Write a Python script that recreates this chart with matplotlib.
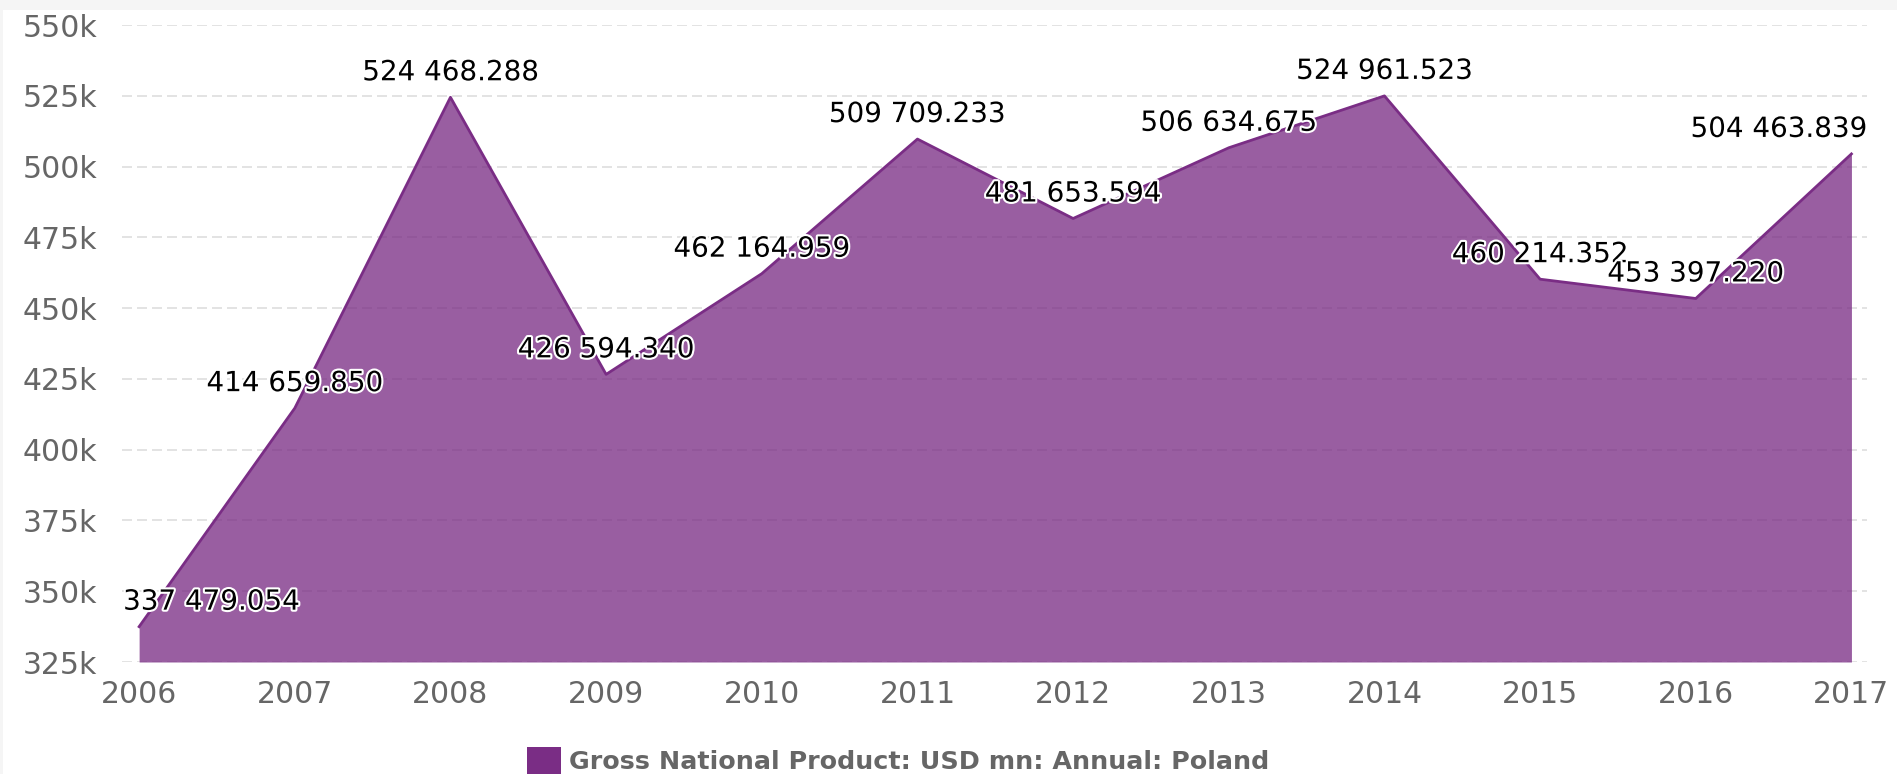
import matplotlib.pyplot as plt
import matplotlib.patheffects as pe
from matplotlib.patches import Rectangle, Patch
from matplotlib.ticker import FuncFormatter

years = [2006, 2007, 2008, 2009, 2010, 2011, 2012, 2013, 2014, 2015, 2016, 2017]
gnp = [337479.054, 414659.850, 524468.288, 426594.340, 462164.959, 509709.233,
       481653.594, 506634.675, 524961.523, 460214.352, 453397.220, 504463.839]
series_name = 'Gross National Product: USD mn: Annual: Poland'

line_col = '#7a2d85'
grey = '#666666'

fig = plt.figure(figsize=(18.97, 7.74), dpi=100, facecolor='#f5f5f5')
# white page area (thin grey strip on top / left like the screenshot)
fig.patches.append(Rectangle((3 / 1897, 0), 1, 1 - 10 / 774, transform=fig.transFigure,
                             facecolor='white', edgecolor='none', zorder=-10))

ax = fig.add_axes([122 / 1897, 1 - 662 / 774, (1867 - 122) / 1897, (662 - 25) / 774])
ax.set_facecolor('none')

ax.fill_between(years, gnp, 325000, color=line_col, alpha=0.77, linewidth=0, zorder=2)
ax.plot(years, gnp, color=line_col, linewidth=2, zorder=3)

ax.set_xlim(2006 - 0.11, 2017 + 0.1)
ax.set_ylim(325000, 550000)
ax.set_yticks(range(325000, 550001, 25000))
ax.set_xticks(years)
ax.yaxis.set_major_formatter(FuncFormatter(lambda v, p: '%dk' % (v / 1000)))
ax.grid(axis='y', color='#dedede', linestyle=(0, (6, 3)), linewidth=1.2, zorder=1)
ax.tick_params(axis='y', length=0, pad=18, labelsize=21.5, labelcolor=grey)
ax.tick_params(axis='x', length=0, pad=13, labelsize=21.5, labelcolor=grey)
for s in ax.spines.values():
    s.set_visible(False)

def fmt(v):
    whole, frac = ('%.3f' % v).split('.')
    return '{:,}'.format(int(whole)).replace(',', ' ') + '.' + frac

for i, (x, y) in enumerate(zip(years, gnp)):
    ha, dx = 'center', 0
    if i == 0:
        ha, dx = 'left', -16
    elif i == len(years) - 1:
        ha, dx = 'right', 16
    ax.annotate(fmt(y), (x, y), xytext=(dx, 25), textcoords='offset pixels',
                ha=ha, va='center', fontsize=20, color='black', zorder=5,
                annotation_clip=False,
                path_effects=[pe.withStroke(linewidth=3, foreground='white')])

handle = Patch(facecolor=line_col, edgecolor='none')
fig.legend([handle], [series_name], loc='center', bbox_to_anchor=(898 / 1897, 1 - 761 / 774),
           frameon=False, handlelength=1.35, handleheight=1.35, handletextpad=0.3,
           prop={'family': 'DejaVu Sans', 'weight': 'bold', 'size': 18.3},
           labelcolor=grey)

fig.savefig('out.png', dpi=100, facecolor=fig.get_facecolor())
